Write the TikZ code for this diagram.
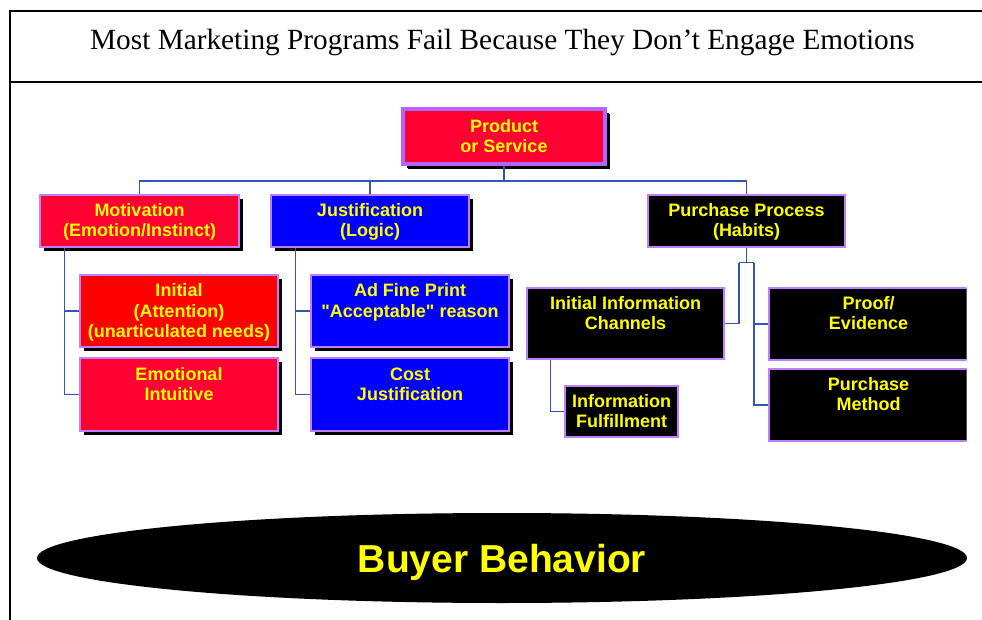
\documentclass[tikz,border=0pt]{standalone}
\usepackage{fontspec}
\setmainfont{Liberation Serif}
\setsansfont{Liberation Sans}[Ligatures=TeXOff]
\usetikzlibrary{shapes.geometric,shadows}

\definecolor{boxred}{RGB}{255,0,51}
\definecolor{hotred}{RGB}{255,0,0}
\definecolor{boxblue}{RGB}{0,0,255}
\definecolor{edgepurple}{RGB}{191,127,255}
\definecolor{prodpurple}{RGB}{178,102,255}
\definecolor{linkblue}{RGB}{51,85,187}
\definecolor{labelyellow}{RGB}{255,255,0}

% top-aligned, centred label block of a given width and height (in pt)
\newcommand\blocktext[4][22]{\parbox[c][#3pt][t]{#2pt}{\centering\rule{0pt}{#1pt}#4}}

\tikzset{
  orgbox/.style={draw=edgepurple, line width=1.2pt, inner sep=0pt,
    text=labelyellow, font=\sffamily\bfseries\fontsize{18}{20}\selectfont},
  shadowed/.style={general shadow={fill=black, shadow xshift=4pt, shadow yshift=-4pt}},
  redbox/.style={orgbox, shadowed, fill=boxred},
  hotbox/.style={orgbox, shadowed, fill=hotred},
  bluebox/.style={orgbox, shadowed, fill=boxblue},
  blackbox/.style={orgbox, fill=black},
  conn/.style={draw=linkblue, line width=1.4pt},
  frame/.style={draw=black, line width=2pt}
}

\begin{document}
\begin{tikzpicture}[x=1pt, y=-1pt]
\useasboundingbox (0,0) rectangle (982,620);

% page frame and title band
\draw[frame] (10,620) -- (10,11) -- (982,11);
\draw[frame] (10,82) -- (982,82);
\node[font=\fontsize{29.3}{31}\selectfont] (title) at (502.5,42.5)
  {Most Marketing Programs Fail Because They Don’t Engage Emotions};

% root
\node[redbox, draw=prodpurple, line width=4pt, general shadow={fill=black, shadow xshift=5pt, shadow yshift=-5pt}]
  (prod) at (504,136.5) {\blocktext[23.5]{202}{55}{Product\\or Service}};

% first level
\node[redbox] (mot) at (139.5,221) {\blocktext{199}{52}{Motivation\\(Emotion/Instinct)}};
\node[bluebox] (jus) at (370,221) {\blocktext{198}{52}{Justification\\(Logic)}};
\node[blackbox] (pp) at (746.5,221) {\blocktext{197}{52}{Purchase Process\\(Habits)}};

% emotional branch
\node[hotbox] (init) at (179,311) {\blocktext{198}{72}{Initial\\(Attention)\\(unarticulated needs)}};
\node[redbox] (emo) at (179,394.5) {\blocktext{198}{73}{Emotional\\Intuitive}};

% logical branch
\node[bluebox] (adf) at (410,311) {\blocktext{198}{72}{Ad Fine Print\\"Acceptable" reason}};
\node[bluebox] (cost) at (410,394.5) {\blocktext{198}{73}{Cost\\Justification}};

% habit branch
\node[blackbox] (iic) at (625.5,323.5) {\blocktext[21.5]{197}{71}{Initial Information\\Channels}};
\node[blackbox] (inf) at (621.5,411.5) {\blocktext[21.5]{113}{51}{Information\\Fulfillment}};
\begin{scope}
  \clip (760,280) rectangle (966.5,450);
  \node[blackbox] (proof) at (868.5,324) {\blocktext[21.5]{199}{72}{Proof/\\Evidence}};
  \node[blackbox] (pm) at (868.5,405) {\blocktext[21.5]{199}{72}{Purchase\\Method}};
\end{scope}

% connectors
\coordinate (bus) at (504,181);
\draw[conn] (prod.south) -- (bus);
\draw[conn] (mot.north) |- (bus) -| (pp.north);
\draw[conn] (jus.north) -- (jus.north |- bus);

\draw[conn] ([xshift=25pt]mot.south west) |- (init.west);
\draw[conn] ([xshift=25pt]mot.south west) |- (emo.west);
\draw[conn] ([xshift=25pt]jus.south west) |- (adf.west);
\draw[conn] ([xshift=25pt]jus.south west) |- (cost.west);

\path (pp.south) ++(0,15) coordinate (fork);
\draw[conn] (pp.south) -- (fork);
\draw[conn] ([xshift=-7.5pt]fork) -- ([xshift=7.5pt]fork);
\draw[conn] ([xshift=-7.5pt]fork) |- (iic.east);
\draw[conn] ([xshift=7.5pt]fork) |- (proof.west);
\draw[conn] ([xshift=7.5pt]fork) |- (pm.west);
\draw[conn] ([xshift=24pt]iic.south west) |- (inf.west);

% base ellipse
\node[ellipse, fill=black, inner sep=0pt, minimum width=930pt, minimum height=90pt,
  text=labelyellow, text depth=0pt, font=\sffamily\bfseries\fontsize{39}{40}\selectfont]
  (bb) at (502,558) {Buyer Behavior};
\end{tikzpicture}
\end{document}
